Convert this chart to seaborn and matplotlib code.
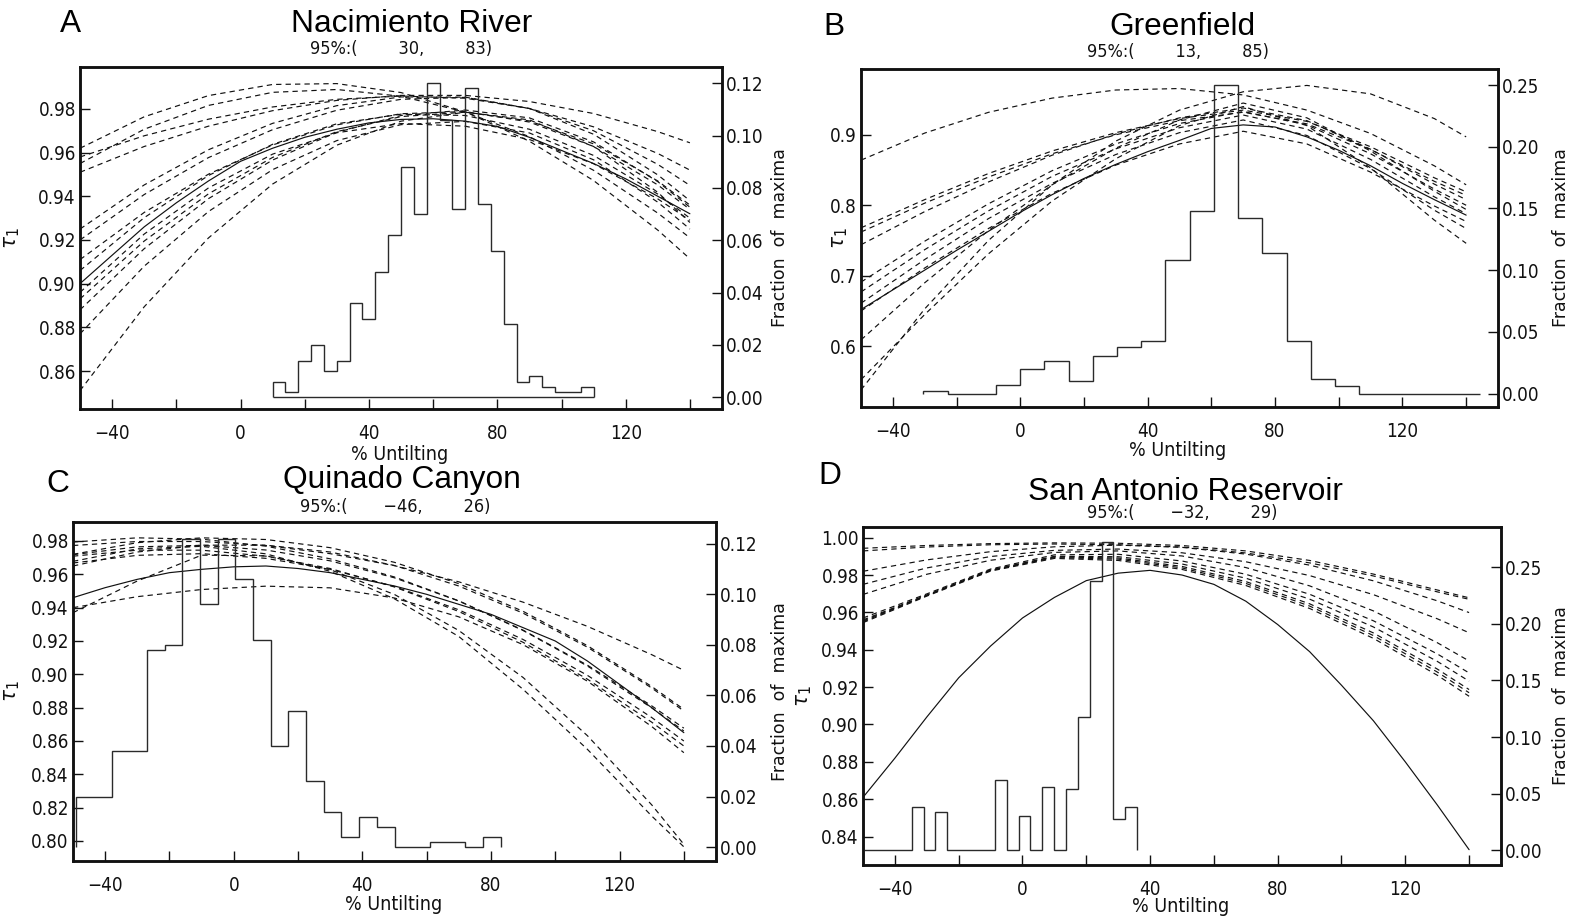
import matplotlib
matplotlib.use("Agg")
import matplotlib.pyplot as plt
import seaborn as sns
import pandas as pd

X_COARSE = [-50, -30, -10, 10, 30, 50, 70, 90, 110, 130, 140]
X_FINE = [-50, -40, -30, -20, -10, 0, 10, 20, 30, 40, 50, 60, 70, 80, 90, 100, 110, 120, 130, 140]

# ---------------- A: Nacimiento River ----------------
a_ci = (30, 83)
a_solid = [0.900, 0.913, 0.926, 0.937, 0.947, 0.956, 0.962, 0.967, 0.9707, 0.9736,
           0.9752, 0.9755, 0.9744, 0.972, 0.967, 0.961, 0.955, 0.948, 0.940, 0.932]
a_boot = [
    [0.962, 0.9764, 0.9861, 0.9912, 0.9916, 0.9875, 0.9787, 0.9652, 0.9472, 0.9245, 0.9114],
    [0.955, 0.9707, 0.9816, 0.9876, 0.9889, 0.9858, 0.9786, 0.9673, 0.9519, 0.9323, 0.921],
    [0.951, 0.9628, 0.9721, 0.9792, 0.9839, 0.9862, 0.9862, 0.9834, 0.9779, 0.9696, 0.9645],
    [0.958, 0.9677, 0.9753, 0.9809, 0.9844, 0.9859, 0.9849, 0.9802, 0.9718, 0.9596, 0.952],
    [0.925, 0.9452, 0.9613, 0.9734, 0.9815, 0.9855, 0.9854, 0.9802, 0.970, 0.9546, 0.945],
    [0.920, 0.9408, 0.9577, 0.9705, 0.9794, 0.9844, 0.9853, 0.9802, 0.9684, 0.9498, 0.938],
    [0.911, 0.9326, 0.9501, 0.9635, 0.9727, 0.9778, 0.9788, 0.974, 0.9628, 0.9452, 0.934],
    [0.906, 0.9302, 0.9495, 0.9638, 0.9732, 0.9776, 0.977, 0.9707, 0.9587, 0.941, 0.930],
    [0.896, 0.9227, 0.9438, 0.9593, 0.9691, 0.9733, 0.9721, 0.966, 0.9549, 0.9388, 0.929],
    [0.893, 0.9195, 0.9411, 0.9578, 0.9696, 0.9765, 0.9785, 0.9745, 0.964, 0.947, 0.936],
    [0.888, 0.916, 0.9389, 0.9566, 0.9693, 0.977, 0.9795, 0.9759, 0.9649, 0.9467, 0.935],
    [0.877, 0.908, 0.933, 0.9522, 0.9655, 0.9728, 0.9743, 0.969, 0.9567, 0.9373, 0.925],
    [0.851, 0.8894, 0.9209, 0.9456, 0.9634, 0.9744, 0.9785, 0.975, 0.9628, 0.9418, 0.928],
]
a_edges = [10, 14, 18, 22, 26, 30, 34, 38, 42, 46, 50, 54, 58, 62, 66, 70, 74, 78, 82,
           86, 90, 94, 98, 102, 106, 110]
a_frac = [0.006, 0.002, 0.014, 0.020, 0.010, 0.014, 0.036, 0.030, 0.048, 0.062, 0.088,
          0.070, 0.120, 0.106, 0.072, 0.118, 0.074, 0.056, 0.028, 0.006, 0.008, 0.004,
          0.002, 0.002, 0.004]

# ---------------- B: Greenfield ----------------
b_ci = (13, 85)
b_solid = [0.652, 0.680, 0.708, 0.736, 0.763, 0.790, 0.815, 0.838, 0.858, 0.876,
           0.892, 0.909, 0.914, 0.911, 0.897, 0.878, 0.856, 0.831, 0.808, 0.786]
b_boot = [
    [0.864, 0.9024, 0.9318, 0.952, 0.9635, 0.9656, 0.9565, 0.935, 0.9018, 0.856, 0.829],
    [0.538, 0.653, 0.750, 0.829, 0.891, 0.935, 0.961, 0.970, 0.958, 0.923, 0.897],
    [0.768, 0.808, 0.845, 0.877, 0.903, 0.923, 0.935, 0.919, 0.883, 0.839, 0.819],
    [0.762, 0.803, 0.840, 0.873, 0.900, 0.920, 0.932, 0.9155, 0.879, 0.834, 0.814],
    [0.744, 0.791, 0.833, 0.871, 0.901, 0.924, 0.938, 0.920, 0.8795, 0.830, 0.808],
    [0.691, 0.749, 0.802, 0.849, 0.887, 0.916, 0.933, 0.914, 0.873, 0.823, 0.800],
    [0.609, 0.690, 0.764, 0.829, 0.881, 0.921, 0.945, 0.924, 0.877, 0.820, 0.794],
    [0.677, 0.737, 0.792, 0.841, 0.880, 0.910, 0.928, 0.908, 0.865, 0.812, 0.788],
    [0.650, 0.711, 0.767, 0.817, 0.857, 0.887, 0.905, 0.887, 0.847, 0.799, 0.777],
    [0.661, 0.723, 0.781, 0.831, 0.872, 0.903, 0.921, 0.899, 0.852, 0.793, 0.767],
    [0.5525, 0.645, 0.731, 0.806, 0.866, 0.913, 0.940, 0.913, 0.853, 0.779, 0.746],
]
b_edges = [-30.4, -22.8, -15.2, -7.6, 0.0, 7.6, 15.2, 22.8, 30.4, 38.0, 45.6, 53.2, 60.8,
           68.4, 76.0, 83.6, 91.2, 98.8, 106.4, 114.0, 121.6, 129.2, 136.8, 144.4]
b_frac = [0.002, 0.0, 0.0, 0.0068, 0.0203, 0.0262, 0.0103, 0.0303, 0.0378, 0.0424, 0.1081,
          0.1481, 0.250, 0.1424, 0.114, 0.0424, 0.0122, 0.0062, 0.0, 0.0, 0.0, 0.0, 0.0]

# ---------------- C: Quinado Canyon ----------------
c_ci = (-46, 26)
c_solid = [0.946, 0.952, 0.957, 0.961, 0.963, 0.9645, 0.965, 0.9635, 0.961, 0.957,
           0.953, 0.948, 0.942, 0.936, 0.928, 0.920, 0.908, 0.894, 0.880, 0.865]
c_boot = [
    [0.9773, 0.9797, 0.9797, 0.9773, 0.9724, 0.9652, 0.9555, 0.9433, 0.9288, 0.9118, 0.9024],
    [0.972, 0.979, 0.9819, 0.9809, 0.976, 0.9672, 0.9544, 0.9378, 0.9172, 0.8927, 0.879],
    [0.9794, 0.9819, 0.9811, 0.9769, 0.9693, 0.9584, 0.9441, 0.9265, 0.9055, 0.8811, 0.8677],
    [0.965, 0.9734, 0.9775, 0.9775, 0.9734, 0.9653, 0.953, 0.9367, 0.9163, 0.8918, 0.878],
    [0.9718, 0.9765, 0.9774, 0.9746, 0.9681, 0.9579, 0.944, 0.9263, 0.905, 0.8799, 0.866],
    [0.9709, 0.9745, 0.9745, 0.9709, 0.9635, 0.9524, 0.9377, 0.9192, 0.8971, 0.8713, 0.857],
    [0.9668, 0.9714, 0.9724, 0.9696, 0.963, 0.9527, 0.9387, 0.9209, 0.8994, 0.8741, 0.860],
    [0.940, 0.9466, 0.9509, 0.9529, 0.9519, 0.9458, 0.9345, 0.9178, 0.8959, 0.8687, 0.853],
    [0.937, 0.956, 0.9715, 0.9711, 0.9628, 0.9479, 0.9263, 0.8981, 0.8632, 0.8217, 0.798],
    [0.9678, 0.9753, 0.9768, 0.9723, 0.9618, 0.9453, 0.9227, 0.891, 0.855, 0.815, 0.7965],
]
c_edges = [-49.0, -43.5, -38.0, -32.5, -27.0, -21.5, -16.0, -10.5, -5.0, 0.5, 6.0, 11.5,
           17.0, 22.5, 28.0, 33.5, 39.0, 44.5, 50.0, 55.5, 61.0, 66.5, 72.0, 77.5, 83.0]
c_frac = [0.020, 0.020, 0.038, 0.038, 0.078, 0.080, 0.122, 0.096, 0.122, 0.106, 0.082,
          0.040, 0.054, 0.026, 0.014, 0.004, 0.012, 0.008, 0.0, 0.0, 0.002, 0.002, 0.0, 0.004]

# ---------------- D: San Antonio Reservoir ----------------
d_ci = (-32, 29)
d_solid = [0.861, 0.882, 0.904, 0.925, 0.942, 0.957, 0.968, 0.977, 0.981, 0.9825,
           0.980, 0.975, 0.966, 0.9535, 0.939, 0.921, 0.902, 0.880, 0.857, 0.833]
d_boot = [
    [0.9943, 0.9958, 0.9968, 0.9972, 0.997, 0.9958, 0.9929, 0.9878, 0.9805, 0.972, 0.9678],
    [0.9929, 0.995, 0.9962, 0.9966, 0.9962, 0.995, 0.9918, 0.9865, 0.9795, 0.971, 0.967],
    [0.982, 0.9881, 0.9925, 0.9951, 0.996, 0.9948, 0.9912, 0.9853, 0.9769, 0.9662, 0.9599],
    [0.975, 0.9838, 0.9899, 0.9932, 0.9939, 0.9919, 0.9871, 0.9797, 0.9695, 0.9566, 0.9491],
    [0.9696, 0.9804, 0.9879, 0.9921, 0.9929, 0.9902, 0.984, 0.9742, 0.9608, 0.9438, 0.934],
    [0.957, 0.9699, 0.9832, 0.9908, 0.9911, 0.9875, 0.9804, 0.9697, 0.9555, 0.9378, 0.9276],
    [0.956, 0.9693, 0.9827, 0.990, 0.9898, 0.9859, 0.9783, 0.9671, 0.9522, 0.9338, 0.9232],
    [0.9555, 0.9692, 0.9826, 0.9897, 0.9891, 0.9846, 0.9765, 0.9646, 0.949, 0.9297, 0.9187],
    [0.955, 0.969, 0.9824, 0.9893, 0.9885, 0.9838, 0.9755, 0.9634, 0.9476, 0.9281, 0.917],
    [0.9545, 0.9687, 0.9821, 0.9889, 0.9878, 0.983, 0.9744, 0.9621, 0.9461, 0.9264, 0.9151],
]
d_edges = [-49.6, -45.88, -42.16, -38.44, -34.72, -31.0, -27.28, -23.56, -19.84, -16.12,
           -12.4, -8.68, -4.96, -1.24, 2.48, 6.2, 9.92, 13.64, 17.36, 21.08, 24.8, 28.52,
           32.24, 35.96]
d_frac = [0.0, 0.0, 0.0, 0.0, 0.038, 0.0, 0.034, 0.0, 0.0, 0.0, 0.0, 0.062, 0.0, 0.030,
          0.0, 0.056, 0.0, 0.054, 0.118, 0.238, 0.272, 0.028, 0.038]

W, H = 1576, 919

panels = [
    dict(letter="A", title="Nacimiento River", ci=a_ci, solid=a_solid, boot=a_boot,
         edges=a_edges, frac=a_frac, box=(80, 67, 722, 409), closed=True,
         ylim=(0.8426, 0.9992), yticks=[0.86, 0.88, 0.90, 0.92, 0.94, 0.96, 0.98], yfmt="%.2f",
         y2lim=(-0.0045, 0.1262), y2ticks=[0, 0.02, 0.04, 0.06, 0.08, 0.10, 0.12],
         letter_xy=(71, 32), title_xy=(412, 32), sub_xy=(401, 54), xlab_xy=(400, 453),
         tau_x=12, frac_x=780),
    dict(letter="B", title="Greenfield", ci=b_ci, solid=b_solid, boot=b_boot,
         edges=b_edges, frac=b_frac, box=(861, 69, 1498, 407), closed=False,
         ylim=(0.5138, 0.9933), yticks=[0.6, 0.7, 0.8, 0.9], yfmt="%.1f",
         y2lim=(-0.0108, 0.263), y2ticks=[0, 0.05, 0.10, 0.15, 0.20, 0.25],
         letter_xy=(834, 35), title_xy=(1182, 35), sub_xy=(1178, 57), xlab_xy=(1178, 448),
         tau_x=840, frac_x=1561),
    dict(letter="C", title="Quinado Canyon", ci=c_ci, solid=c_solid, boot=c_boot,
         edges=c_edges, frac=c_frac, box=(73, 522, 716, 861), closed=False,
         ylim=(0.788, 0.9914), yticks=[0.80, 0.82, 0.84, 0.86, 0.88, 0.90, 0.92, 0.94, 0.96, 0.98],
         yfmt="%.2f", y2lim=(-0.0055, 0.1286), y2ticks=[0, 0.02, 0.04, 0.06, 0.08, 0.10, 0.12],
         letter_xy=(58, 492), title_xy=(402, 488), sub_xy=(395, 512), xlab_xy=(394, 902),
         tau_x=12, frac_x=780),
    dict(letter="D", title="San Antonio Reservoir", ci=d_ci, solid=d_solid, boot=d_boot,
         edges=d_edges, frac=d_frac, box=(863, 527, 1501, 865), closed=False,
         ylim=(0.8248, 1.0057), yticks=[0.84, 0.86, 0.88, 0.90, 0.92, 0.94, 0.96, 0.98, 1.00],
         yfmt="%.2f", y2lim=(-0.013, 0.2854), y2ticks=[0, 0.05, 0.10, 0.15, 0.20, 0.25],
         letter_xy=(830, 484), title_xy=(1185, 500), sub_xy=(1182, 518), xlab_xy=(1181, 905),
         tau_x=804, frac_x=1561),
]

sns.set_style("ticks")
plt.rcParams["font.family"] = ["DejaVu Sans"]
plt.rcParams["font.stretch"] = "condensed"
plt.rcParams["mathtext.fontset"] = "dejavusans"

INK = "#111111"
HIST = "#2a2a2a"
TICK_FS = 13.5


def curves_frame(solid, boot):
    rows = [("obs", "obs", x, v) for x, v in zip(X_FINE, solid)]
    for i, b in enumerate(boot):
        rows += [(f"b{i}", "boot", x, v) for x, v in zip(X_COARSE, b)]
    return pd.DataFrame(rows, columns=["curve", "kind", "untilt", "tau"])


def fx(x):
    return x / W


def fy(y):
    return 1 - y / H


fig = plt.figure(figsize=(W / 100, H / 100), dpi=100)

for p in panels:
    l, t, r, b = p["box"]
    ax = fig.add_axes([fx(l), fy(b), (r - l) / W, (b - t) / H])
    df = curves_frame(p["solid"], p["boot"])
    sns.lineplot(data=df, x="untilt", y="tau", units="curve", estimator=None,
                 style="kind", style_order=["obs", "boot"],
                 dashes={"obs": "", "boot": (4.5, 3.5)},
                 color=INK, linewidth=0.85, legend=False, ax=ax)
    ax.set_xlim(-50, 150)
    ax.set_ylim(*p["ylim"])
    ax.set_xlabel("")
    ax.set_ylabel("")
    ax.set_xticks([-40, 0, 40, 80, 120])
    ax.set_xticks([-20, 20, 60, 100, 140], minor=True)
    ax.set_xticklabels(["\u221240", "0", "40", "80", "120"])
    ax.set_yticks(p["yticks"])
    ax.set_yticklabels([p["yfmt"] % v for v in p["yticks"]])
    ax.tick_params(axis="x", which="both", direction="in", length=7, width=1.0,
                   top=False, pad=11, labelsize=TICK_FS, colors=INK)
    ax.tick_params(axis="y", which="both", direction="in", length=7, width=1.0,
                   right=False, pad=3, labelsize=TICK_FS, colors=INK)

    ax2 = ax.twinx()
    ax2.stairs(p["frac"], p["edges"], baseline=0, color=HIST, linewidth=1.0)
    if p["closed"]:
        ax2.hlines(0, p["edges"][0], p["edges"][-1], color=HIST, linewidth=1.0)
    ax2.set_ylim(*p["y2lim"])
    ax2.set_yticks(p["y2ticks"])
    ax2.set_yticklabels(["%.2f" % v for v in p["y2ticks"]])
    ax2.tick_params(axis="y", direction="in", length=7, width=1.0, pad=3,
                    labelsize=TICK_FS, colors=INK)
    for a in (ax, ax2):
        for s in a.spines.values():
            s.set_linewidth(1.8)
            s.set_color(INK)

    ymid = (t + b) / 2
    fig.text(fx(p["letter_xy"][0]), fy(p["letter_xy"][1]), p["letter"],
             family="Liberation Sans", stretch="normal", fontsize=22.8,
             ha="center", va="baseline", color="black")
    fig.text(fx(p["title_xy"][0]), fy(p["title_xy"][1]), p["title"],
             family="Liberation Sans", stretch="normal", fontsize=22.8,
             ha="center", va="baseline", color="black")
    sub = "95%:({:>10d},{:>10d})".format(*p["ci"]).replace("-", "\u2212")
    fig.text(fx(p["sub_xy"][0]), fy(p["sub_xy"][1]), sub, fontsize=13,
             ha="center", va="baseline", color=INK)
    fig.text(fx(p["xlab_xy"][0]), fy(p["xlab_xy"][1] + 2), "% Untilting", fontsize=14,
             ha="center", va="center", color=INK)
    fig.text(fx(p["tau_x"]), fy(ymid), r"$\tau_1$", fontsize=16, rotation=90,
             ha="center", va="center", color=INK)
    fig.text(fx(p["frac_x"]), fy(ymid), "Fraction  of  maxima", fontsize=12.5,
             stretch="normal", rotation=90, ha="center", va="center", color=INK)

fig.savefig("out.png", dpi=100, facecolor="white")
